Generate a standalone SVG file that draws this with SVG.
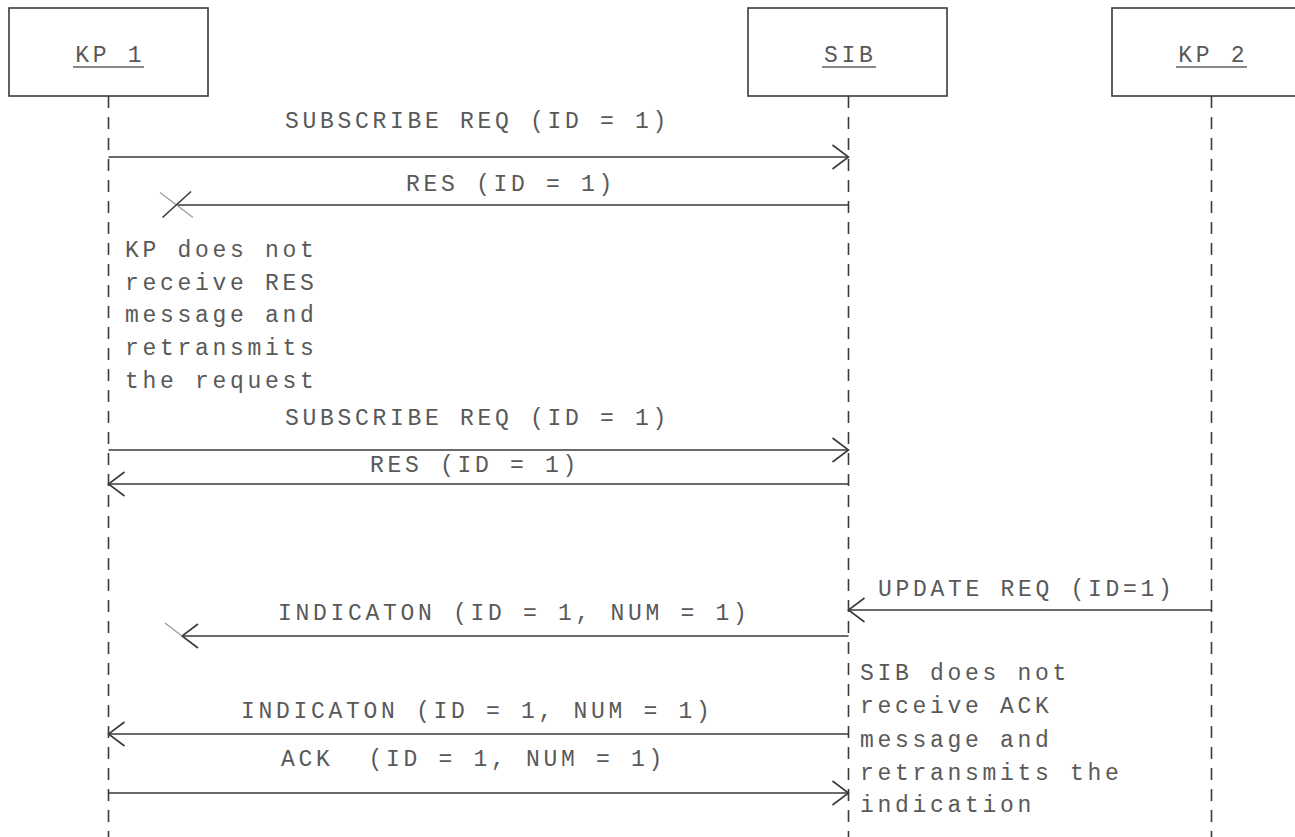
<svg xmlns="http://www.w3.org/2000/svg" width="1295" height="837" viewBox="0 0 1295 837">
  <defs>
    <style>
      .box { fill: #ffffff; stroke: #3a3a3a; stroke-width: 1.6; }
      .life { stroke: #3a3a3a; stroke-width: 1.6; stroke-dasharray: 12 9; fill: none; }
      .msg { stroke: #3a3a3a; stroke-width: 1.6; fill: none; }
      .lost { stroke: #9a9a9a; stroke-width: 1.2; fill: none; }
      .txt { font-family: "Liberation Mono", "Courier New", monospace; font-size: 23px; letter-spacing: 3.7px; fill: #595959; white-space: pre; }
      .head { text-anchor: middle; }
      .ul { stroke: #606060; stroke-width: 1.4; }
    </style>
    <marker id="open" viewBox="0 0 20 30" refX="18" refY="15" markerWidth="20" markerHeight="30" markerUnits="userSpaceOnUse" orient="auto">
      <path d="M2,3 L18,15 L2,27" fill="none" stroke="#3a3a3a" stroke-width="1.6"/>
    </marker>
  </defs>

  <rect width="1295" height="837" fill="#ffffff"/>

  <!-- participants -->
  <g id="kp1">
    <rect class="box" x="9" y="8" width="199" height="88"/>
    <text class="txt head" x="110.35" y="62">KP 1</text>
    <line class="ul" x1="73" y1="67" x2="144" y2="67"/>
    <line class="life" x1="108.5" y1="96" x2="108.5" y2="837"/>
  </g>
  <g id="sib">
    <rect class="box" x="748" y="8" width="199" height="88"/>
    <text class="txt head" x="850.35" y="62">SIB</text>
    <line class="ul" x1="822" y1="67" x2="876" y2="67"/>
    <line class="life" x1="848.5" y1="96" x2="848.5" y2="837"/>
  </g>
  <g id="kp2">
    <rect class="box" x="1112" y="8" width="199" height="88"/>
    <text class="txt head" x="1213.35" y="62">KP 2</text>
    <line class="ul" x1="1176" y1="67" x2="1247" y2="67"/>
    <line class="life" x1="1211.5" y1="96" x2="1211.5" y2="837"/>
  </g>

  <!-- messages -->
  <g id="connectors">
    <line class="msg" x1="108.5" y1="157" x2="848.5" y2="157" marker-end="url(#open)"/>
    <line class="msg" x1="848.5" y1="205" x2="178" y2="205"/>
    <line class="lost" x1="160" y1="192.5" x2="193" y2="217.5"/>
    <line class="msg" x1="162.5" y1="217.5" x2="191" y2="191.5"/>
    <line class="msg" x1="108.5" y1="450" x2="848.5" y2="450" marker-end="url(#open)"/>
    <line class="msg" x1="848.5" y1="484" x2="108.5" y2="484" marker-end="url(#open)"/>
    <line class="msg" x1="1211.5" y1="610" x2="848.5" y2="610" marker-end="url(#open)"/>
    <line class="msg" x1="848.5" y1="636" x2="182" y2="636" marker-end="url(#open)"/>
    <line class="lost" x1="165" y1="623" x2="182" y2="636"/>
    <line class="msg" x1="848.5" y1="734" x2="108.5" y2="734" marker-end="url(#open)"/>
    <line class="msg" x1="108.5" y1="793" x2="848.5" y2="793" marker-end="url(#open)"/>
  </g>

  <!-- message labels -->
  <g id="labels">
    <text class="txt" x="285" y="128">SUBSCRIBE REQ (ID = 1)</text>
    <text class="txt" x="406" y="191">RES (ID = 1)</text>
    <text class="txt" x="285" y="425">SUBSCRIBE REQ (ID = 1)</text>
    <text class="txt" x="370" y="472">RES (ID = 1)</text>
    <text class="txt" x="878" y="596">UPDATE REQ (ID=1)</text>
    <text class="txt" x="278" y="620">INDICATON (ID = 1, NUM = 1)</text>
    <text class="txt" x="241" y="718">INDICATON (ID = 1, NUM = 1)</text>
    <text class="txt" x="281" y="766">ACK  (ID = 1, NUM = 1)</text>
  </g>

  <!-- notes -->
  <g id="note-kp">
    <text class="txt" x="125" y="257">KP does not</text>
    <text class="txt" x="125" y="290">receive RES</text>
    <text class="txt" x="125" y="322">message and</text>
    <text class="txt" x="125" y="355">retransmits</text>
    <text class="txt" x="125" y="388">the request</text>
  </g>
  <g id="note-sib">
    <text class="txt" x="860" y="680">SIB does not</text>
    <text class="txt" x="860" y="713">receive ACK</text>
    <text class="txt" x="860" y="747">message and</text>
    <text class="txt" x="860" y="780">retransmits the</text>
    <text class="txt" x="860" y="812">indication</text>
  </g>
</svg>
